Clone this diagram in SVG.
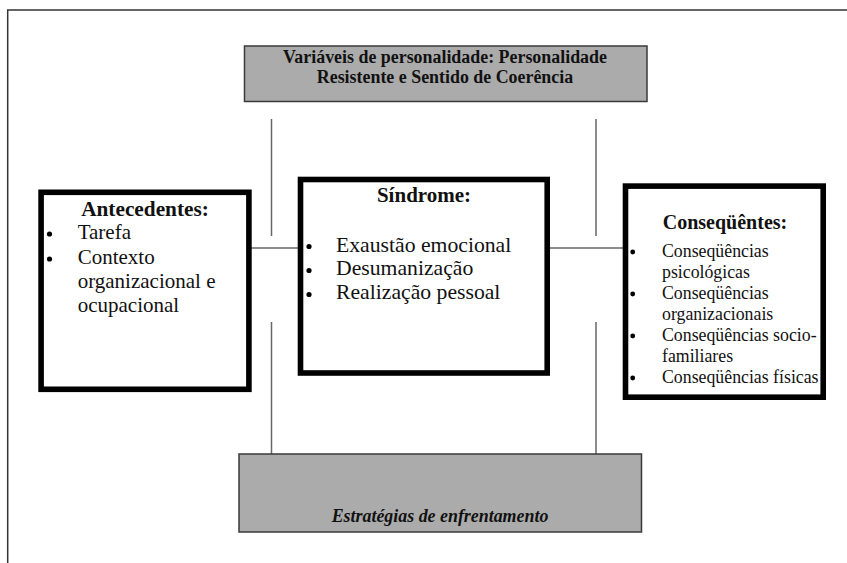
<svg xmlns="http://www.w3.org/2000/svg" width="847" height="563" viewBox="0 0 847 563">
<style>
.frame{fill:none;stroke:#333;stroke-width:1.5}
.gray{fill:#ababab;stroke:#3a3a3a;stroke-width:1.5}
.box{fill:#fff;stroke:#000;stroke-width:5.6}
.conn line{stroke:#666;stroke-width:1.5}
.t{font-family:"Liberation Serif","Times New Roman",serif;fill:#111}
.b{font-weight:bold}
.bi{font-weight:bold;font-style:italic}
.dot{fill:#000}
</style>
<rect width="847" height="563" fill="#fff"/>
<path class="frame" d="M7.7 563 V10 H847"/>
<g class="conn">
<line x1="271.5" y1="119" x2="271.5" y2="236"/>
<line x1="271.5" y1="322" x2="271.5" y2="454"/>
<line x1="596" y1="119" x2="596" y2="236"/>
<line x1="596" y1="322" x2="596" y2="454"/>
<line x1="251" y1="248" x2="298" y2="248"/>
<line x1="550" y1="248" x2="623" y2="248"/>
</g>
<g id="personalidade">
<rect class="gray" x="244.5" y="46" width="402.5" height="55.5"/>
<text class="t b" x="445" y="62.5" font-size="17.9" text-anchor="middle">Variáveis de personalidade:  Personalidade</text>
<text class="t b" x="445" y="83.3" font-size="17.9" text-anchor="middle">Resistente e Sentido de Coerência</text>
</g>
<g id="antecedentes">
<rect class="box" x="41.1" y="192.3" width="207.8" height="197"/>
<text class="t b" x="145" y="215.7" font-size="21.3" text-anchor="middle">Antecedentes:</text>
<circle class="dot" cx="49.5" cy="234" r="2.6"/>
<circle class="dot" cx="49.5" cy="259" r="2.6"/>
<text class="t" font-size="21"><tspan x="77.7" y="239.3">Tarefa</tspan><tspan x="77.7" y="264.3">Contexto</tspan><tspan x="77.7" y="288.3">organizacional e</tspan><tspan x="77.7" y="312.3">ocupacional</tspan></text>
</g>
<g id="sindrome">
<rect class="box" x="300.5" y="179.5" width="246.7" height="193.5"/>
<text class="t b" x="424" y="202" font-size="21" text-anchor="middle">Síndrome:</text>
<circle class="dot" cx="309" cy="246.5" r="2.6"/>
<circle class="dot" cx="309" cy="270.5" r="2.6"/>
<circle class="dot" cx="309" cy="294.5" r="2.6"/>
<text class="t" font-size="21.7"><tspan x="336" y="251.5">Exaustão emocional</tspan><tspan x="336" y="275">Desumanização</tspan><tspan x="336" y="298.5">Realização pessoal</tspan></text>
</g>
<g id="consequentes">
<rect class="box" x="625.5" y="186.1" width="197.7" height="211.1"/>
<text class="t b" x="725" y="229" font-size="20" text-anchor="middle">Conseqüêntes:</text>
<circle class="dot" cx="632.7" cy="252" r="2.4"/>
<circle class="dot" cx="632.7" cy="294" r="2.4"/>
<circle class="dot" cx="632.7" cy="336" r="2.4"/>
<circle class="dot" cx="632.7" cy="378" r="2.4"/>
<text class="t" font-size="17.8"><tspan x="662" y="257">Conseqüências</tspan><tspan x="662" y="278">psicológicas</tspan><tspan x="662" y="299">Conseqüências</tspan><tspan x="662" y="320">organizacionais</tspan><tspan x="662" y="341">Conseqüências socio-</tspan><tspan x="662" y="362">familiares</tspan><tspan x="662" y="383">Conseqüências físicas</tspan></text>
</g>
<g id="estrategias">
<rect class="gray" x="239" y="454" width="402.5" height="78"/>
<text class="t bi" x="440" y="522" font-size="17.9" text-anchor="middle">Estratégias de enfrentamento</text>
</g>
</svg>
